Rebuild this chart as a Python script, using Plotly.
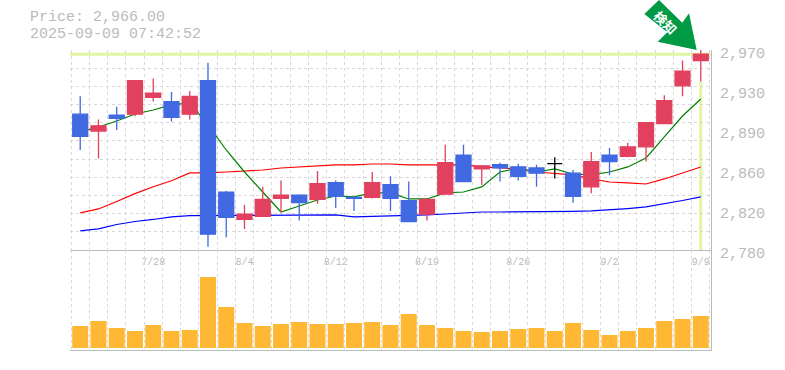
import plotly.graph_objects as go

dates = ["7/22","7/23","7/24","7/25","7/28","7/29","7/30","7/31","8/1","8/4","8/5","8/6","8/7","8/8","8/12","8/13","8/14","8/15","8/18","8/19","8/20","8/21","8/22","8/25","8/26","8/27","8/28","8/29","9/1","9/2","9/3","9/4","9/5","9/8","9/9"]
opens  = [2909,2893,2908,2909,2925,2921,2909,2941,2835,2809,2812,2829,2832,2828,2844,2830,2830,2842,2827,2814,2833,2870,2857,2861,2859,2858,2862,2853,2840,2870,2869,2878,2900,2936,2960]
highs  = [2926,2904,2916,2941,2943,2930,2931,2958,2836,2823,2840,2846,2833,2855,2846,2830,2854,2850,2845,2828,2880,2880,2860,2863,2862,2861,2868,2856,2873,2877,2882,2901,2927,2960,2970]
lows   = [2875,2867,2894,2907,2921,2902,2904,2783,2792,2800,2812,2816,2808,2824,2820,2817,2829,2817,2807,2808,2833,2845,2842,2845,2846,2840,2848,2825,2834,2851,2868,2864,2900,2926,2940]
closes = [2888,2898,2905,2941,2929,2906,2926,2795,2811,2814,2828,2832,2825,2843,2831,2829,2844,2829,2807,2828,2863,2845,2860,2858,2850,2853,2862,2831,2864,2864,2878,2901,2922,2950,2966]
ma_short = [2892.1,2896.9,2902.6,2909.2,2913,2917.8,2919.7,2898.8,2875,2854.1,2835.1,2816.1,2821.8,2827.5,2831.3,2830.4,2834.2,2834.2,2828.5,2828.5,2834.2,2835.1,2839.9,2854.1,2857.9,2854.1,2857,2852.2,2851.3,2854.1,2858.9,2867.4,2887.4,2907.3,2923.5]
ma_mid = [2815.2,2819,2826.1,2833.6,2840.1,2845.8,2853.2,2853.2,2854.1,2855.1,2856,2857.9,2858.9,2859.8,2860.8,2860.8,2861.7,2861.7,2860.8,2860.8,2860.8,2860.8,2858.9,2857.9,2857,2854.1,2852.7,2851.3,2847.5,2844.6,2843.7,2842.7,2847.5,2853.2,2858.9]
ma_long = [2798.1,2800,2804.2,2807.1,2809,2811.4,2812.6,2812.6,2812.6,2812.6,2812.6,2812.6,2812.6,2812.6,2813.3,2811.4,2811.8,2812.3,2812.3,2813.3,2814.2,2815.2,2816.1,2816.1,2816.1,2816.1,2816.1,2816.6,2817.1,2818,2819.4,2820.9,2823.7,2827,2830.4]
volumes = [220,270,200,170,230,170,180,710,410,250,220,240,260,240,240,250,260,230,340,230,200,170,160,170,190,200,170,250,180,130,170,200,270,290,320]
price_ticks = [2780,2818,2856,2894,2932,2970]
price_labels = ["2,780","2,820","2,860","2,890","2,930","2,970"]
date_ticks = ["7/28","8/4","8/12","8/19","8/26","9/2","9/9"]
title_lines = ["Price: 2,966.00","2025-09-09 07:42:52"]

W, H, L, R, T, B = 785, 370, 70, 74, 50, 20
FONT = "Liberation Mono"
GRAY = "#bbbbbb"
GRID = "#d8d8d8"
HILITE = "#e2f5a5"
RED, BLUE = "#e2405f", "#4169e1"

xs = list(range(len(dates)))
xr = [-0.56, len(dates) - 1 + 0.56]
price_range = [2780, 2970]
normal = [i for i in xs if opens[i] != closes[i]]
doji = [i for i in xs if opens[i] == closes[i]]

def pick(a, idx):
    return [a[i] for i in idx]

def paper(px, py):
    return (px - L) / (W - L - R), 1 - (py - T) / (H - T - B)

fig = go.Figure()
for vals, col in ((ma_long, "#0000ff"), (ma_mid, "#ff0000"), (ma_short, "#008000")):
    fig.add_trace(go.Scatter(x=xs, y=vals, mode="lines", line=dict(color=col, width=1.2), xaxis="x", yaxis="y"))
fig.add_trace(go.Bar(x=xs, y=volumes, marker=dict(color="#ffb833", line=dict(width=0)), width=16 / 18.25, xaxis="x2", yaxis="y2"))
fig.add_trace(go.Candlestick(
    x=normal, open=pick(opens, normal), high=pick(highs, normal), low=pick(lows, normal), close=pick(closes, normal),
    increasing=dict(line=dict(color=RED, width=1.3), fillcolor=RED),
    decreasing=dict(line=dict(color=BLUE, width=1.3), fillcolor=BLUE),
    whiskerwidth=0, xaxis="x", yaxis="y3"))
fig.add_trace(go.Candlestick(
    x=doji, open=pick(opens, doji), high=pick(highs, doji), low=pick(lows, doji), close=pick(closes, doji),
    increasing=dict(line=dict(color="#000000", width=1.3), fillcolor="#000000"),
    decreasing=dict(line=dict(color="#000000", width=1.3), fillcolor="#000000"),
    whiskerwidth=0, xaxis="x", yaxis="y3"))

x_minor = dict(tickmode="linear", tick0=-0.5, dtick=1, showgrid=True, gridcolor=GRID, griddash="3px,3px", gridwidth=1, ticks="")
y_minor = dict(tickmode="linear", tick0=2780, dtick=190 / 11, showgrid=True, gridcolor=GRID, griddash="3px,3px", gridwidth=1, ticks="")
tick_pos = [xs[dates.index(d)] for d in date_ticks]

arrow_px = [(659, 0), (644.3, 14), (667.3, 32.3), (657.7, 41.7), (696.7, 50), (689, 13.3), (682.3, 22.7)]
path = "M " + " L ".join("%.5f %.5f" % paper(*p) for p in arrow_px) + " Z"
ax_, ay_ = paper(666, 22)
t1 = paper(28, 18)
t2 = paper(28, 35)

fig.update_layout(
    width=W, height=H, margin=dict(l=L, r=R, t=T, b=B, autoexpand=False),
    paper_bgcolor="white", plot_bgcolor="white", showlegend=False, boxgap=0.18, boxgroupgap=0, bargap=0.12,
    font=dict(family=FONT, color=GRAY),
    xaxis=dict(domain=[0, 1], anchor="y", range=xr, tickmode="array", tickvals=tick_pos, ticktext=date_ticks,
               showgrid=False, zeroline=False, showline=True, linecolor=GRAY, linewidth=1, minor=x_minor,
               rangeslider=dict(visible=False), tickfont=dict(size=10, color=GRAY, family=FONT), ticks="", ticklabelstandoff=2),
    xaxis2=dict(domain=[0, 1], anchor="y2", range=xr, showticklabels=False, showgrid=False, zeroline=False,
                showline=True, linecolor=GRAY, linewidth=1, minor=x_minor, ticks="", tickmode="array", tickvals=[]),
    yaxis=dict(domain=[1 / 3, 1], anchor="x", side="right", range=price_range, tickmode="array", tickvals=price_ticks,
               ticktext=price_labels, showgrid=False, zeroline=False, showline=True, linecolor=GRAY, linewidth=1,
               minor=y_minor, tickfont=dict(size=15, color=GRAY, family=FONT), ticks="", ticklabelstandoff=5, ticklabelshift=3),
    yaxis2=dict(domain=[0, 1 / 3], anchor="x2", side="right", range=[-20, 980], showticklabels=False, showgrid=False,
                zeroline=False, showline=True, linecolor=GRAY, linewidth=1, ticks=""),
    yaxis3=dict(domain=[1 / 3, 1], anchor="x", overlaying="y", side="right", range=price_range, showticklabels=False,
                showgrid=False, zeroline=False, showline=False, ticks=""),
    shapes=[
        dict(type="line", xref="paper", yref="y", x0=0, x1=1, y0=closes[-1], y1=closes[-1], line=dict(color=HILITE, width=3), layer="below"),
        dict(type="line", xref="x", yref="y", x0=xs[-1], x1=xs[-1], y0=price_range[0], y1=lows[-1], line=dict(color=HILITE, width=3), layer="below"),
        dict(type="path", xref="paper", yref="paper", path=path, fillcolor="#009944", line=dict(width=0), layer="above"),
    ],
    annotations=[
        dict(text=title_lines[0], xref="paper", yref="paper", x=t1[0], y=t1[1], xanchor="left", yanchor="middle", showarrow=False,
             font=dict(size=15, color=GRAY, family=FONT)),
        dict(text=title_lines[1], xref="paper", yref="paper", x=t2[0], y=t2[1], xanchor="left", yanchor="middle", showarrow=False,
             font=dict(size=15, color=GRAY, family=FONT)),
        dict(text="<b>検知</b>", xref="paper", yref="paper", x=ax_, y=ay_, xanchor="center", yanchor="middle", showarrow=False, textangle=45,
             font=dict(size=13, color="white", family="Noto Sans CJK JP")),
    ],
)
fig.write_html("out.html", config=dict(displayModeBar=False), post_script="document.body.style.margin='0';")
